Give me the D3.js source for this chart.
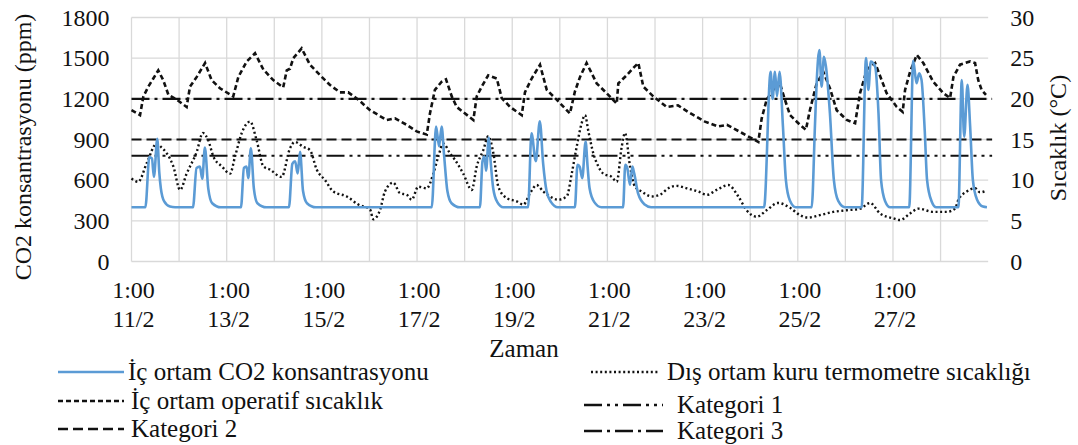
<!DOCTYPE html>
<html>
<head>
<meta charset="utf-8">
<script src="https://cdn.jsdelivr.net/npm/d3@7"></script>
<style>
  body { margin: 0; background: #fff; }
  text { font-family: "Liberation Serif", "Times New Roman", serif; fill: #111; }
</style>
</head>
<body>
<div id="vis"></div>
<script>
// chart size and plot box
const FRAME_WIDTH = 1078;
const FRAME_HEIGHT = 445;
const MARGINS = {left: 131.5, right: 90, top: 17.5, bottom: 183.5};

// time axis: hours counted from 11/2 1:00
const X_MAX = 432;
const xTickHours = [0, 48, 96, 144, 192, 240, 288, 336, 384];
const xTickDates = ["11/2", "13/2", "15/2", "17/2", "19/2", "21/2", "23/2", "25/2", "27/2"];
const yLeftTicks = [0, 300, 600, 900, 1200, 1500, 1800];
const yRightTicks = [0, 5, 10, 15, 20, 25, 30];

// indoor CO2 (ppm), [hour, value]
const co2Data = [
  [0, 400], [7, 400], [9, 770], [10.3, 760], [11.3, 625], [13, 905], [14, 660], [14.8, 540], [16.5, 443], [19.4, 405], [22, 400],
  [31, 400], [32.8, 690], [34.5, 700], [35.7, 610], [37, 840], [38.7, 540], [40.7, 430], [45, 400],
  [55.2, 400], [56.7, 690], [58, 700], [58.9, 615], [60.2, 836], [61.7, 540], [63.5, 430], [68, 400],
  [79.4, 400], [81.1, 720], [82.5, 740], [83.8, 650], [85, 810], [86.5, 520], [88.5, 430], [93, 400],
  [151.4, 400], [153.6, 995], [155.1, 850], [156.4, 995], [157.6, 790], [159.3, 520], [161.4, 430], [165.6, 400],
  [175.7, 400], [177, 740], [178, 775], [178.8, 670], [180.2, 915], [181, 760], [182.4, 540], [184.4, 440], [187.5, 400],
  [200, 400], [201.7, 945], [203.9, 740], [205.9, 1035], [207.6, 720], [209.3, 520], [211.5, 440], [215, 400],
  [223.6, 400], [224.9, 713], [226, 700], [227.3, 615], [229, 885], [230, 700], [231, 540], [233.3, 440], [237, 400],
  [247.9, 400], [249, 713], [250, 690], [251.4, 566], [252.6, 700], [253.5, 650], [255.5, 500], [258.8, 420], [262, 400],
  [319, 400], [322.3, 1400], [323.3, 1200], [324.5, 1400], [325.5, 1220], [326.8, 1400], [328.5, 1000], [330, 600], [332, 450], [335, 400],
  [343, 400], [344.7, 1020], [345.5, 1315], [346.9, 1560], [348, 1290], [349.2, 1510], [350.2, 1438], [352.2, 1094], [354.2, 600], [356.4, 447], [359.8, 400],
  [368.2, 400], [370.4, 1500], [371.6, 1266], [372.8, 1475], [375, 1438], [376.7, 1094], [378, 600], [380, 447], [382.6, 400],
  [392.2, 400], [394.2, 1480], [395.9, 1315], [397.2, 1389], [398.4, 1340], [400, 970], [401.2, 600], [403.4, 447], [405.9, 400],
  [417, 400], [418.7, 1339], [419.9, 921], [421.6, 1303], [422.9, 1000], [424.3, 600], [426.3, 460], [429.4, 405], [431.4, 400]
];

// indoor operative temperature (°C), [hour, value]
const operativeData = [
  [0, 18.6], [4.3, 18.0], [6, 20.3], [8.5, 21.5], [11, 22.5], [13.5, 23.5], [16, 22.3], [18.6, 20.5], [22.8, 19.9], [27.8, 19.0],
  [29.5, 21.5], [32.9, 22.7], [37.1, 24.4], [40.4, 22.3], [44.6, 21.3], [51.3, 20.3],
  [53.9, 22.7], [58.1, 24.6], [62.3, 25.6], [66.5, 23.6], [71.5, 22.3], [76.5, 21.4],
  [78.3, 23.5], [79.9, 23.7], [81.6, 25.0], [85.8, 26.2], [90, 24.2], [95.1, 22.9], [100.1, 21.7], [105.1, 20.8], [109.3, 20.8],
  [114.4, 19.9], [120.3, 18.6], [128.7, 17.4], [132.9, 17.6], [138.8, 16.8], [143.8, 16.0], [148.9, 15.6],
  [150.5, 18.2], [153, 21.1], [156.4, 22.1], [158.6, 22.4], [161.5, 20.3], [164, 19.0], [172.4, 17.4],
  [174.1, 20.3], [176.6, 21.5], [179.9, 22.9], [184.2, 22.5], [186.7, 20.1], [190.9, 19.0], [196.8, 18.0],
  [198.4, 20.8], [201.8, 22.5], [206, 24.2], [209.4, 21.1], [214.4, 19.9], [221.1, 18.2],
  [223.6, 20.9], [226.2, 22.7], [229.5, 24.4], [234.6, 21.9], [239.6, 20.7], [244.7, 19.4],
  [245.5, 21.9], [249.7, 22.9], [253.1, 23.8], [255.6, 24.4], [258.1, 21.5], [263.1, 20.3], [269.9, 19.0],
  [275.6, 19.2], [280.6, 18.4], [289.2, 17.2], [295.8, 16.6], [300.3, 16.8], [307.9, 15.8], [316.1, 14.7],
  [317.8, 17.6], [320.3, 19.9], [323.6, 21.1], [326.7, 22.1], [329.5, 19.9], [332.1, 18.0], [337.1, 16.8], [340.1, 16.2],
  [342.1, 18.6], [345.5, 21.9], [348.9, 23.3], [352.2, 21.3], [355.6, 18.6], [360.7, 17.4], [364.9, 17.0],
  [367.4, 20.7], [370.8, 23.6], [375, 24.4], [378.3, 22.3], [380.8, 20.7], [385.9, 19.0], [388.9, 18.4],
  [390.1, 21.1], [392.6, 23.3], [396, 25.4], [399.3, 24.4], [404.3, 22.1], [409.4, 20.7], [412.8, 20.1],
  [414.5, 22.7], [417.8, 24.2], [422.9, 24.6], [425.4, 24.4], [427, 22.3], [428.7, 21.1], [430.9, 20.5]
];

// outdoor dry bulb temperature (°C), [hour, value]
const outdoorData = [
  [0, 10.2], [3.4, 9.8], [7.7, 12.1], [12.7, 14.5], [15.2, 14.0], [17.8, 13.3], [21.1, 11.7], [24.5, 8.8],
  [27.8, 10.8], [32.9, 13.5], [36, 15.8], [38.7, 14.9], [41.3, 12.9], [45.5, 11.7], [49.7, 10.8],
  [52.2, 12.9], [55.6, 15.8], [59.8, 17.2], [63.1, 14.9], [66.5, 11.7], [69.8, 11.3], [75.7, 10.4],
  [79.9, 13.9], [82.4, 14.7], [86.6, 14.1], [90, 13.7], [93.4, 11.3], [97.6, 10.0], [101.8, 8.6], [108.5, 8.0],
  [114.4, 7.0], [120.3, 6.4], [121.9, 5.2], [125.3, 6.3], [127.8, 8.6], [132, 9.7], [135.4, 8.4], [138.8, 8.2],
  [141.3, 7.6], [144.6, 9.2], [148.9, 9.0], [152.2, 10.8], [154.7, 12.9], [157.2, 14.5], [160.6, 13.3], [163.1, 12.5],
  [167.3, 10.8], [171.6, 8.8], [174.1, 11.7], [177.4, 13.7], [179.9, 15.4], [182.5, 13.3], [185, 9.2], [189.2, 7.8],
  [194.2, 7.4], [197.6, 7.0], [201, 8.4], [204.3, 9.4], [207.7, 8.6], [211, 8.0], [215.2, 7.6], [219.5, 8.0],
  [222, 10.8], [224.5, 14.1], [227, 17.0], [228.7, 18.0], [230.4, 16.0], [232.9, 13.3], [235.4, 11.7], [237.9, 10.8],
  [242.2, 10.4], [244.7, 9.8], [247.2, 14.1], [248.9, 15.8], [251.4, 11.7], [253.9, 9.2], [257.3, 8.6], [262.3, 8.0],
  [266.5, 8.2], [270.7, 9.0], [274.9, 9.3], [280, 9.0], [285.8, 8.6], [290.1, 8.2], [295.1, 8.8], [301, 9.4],
  [306, 8.0], [310.2, 6.3], [315.3, 5.5], [320.3, 6.3], [326, 7.2], [332.1, 6.6], [337.1, 5.7], [341.1, 5.4],
  [347.1, 5.7], [353.9, 6.1], [360.7, 6.3], [367.4, 6.5], [372.5, 7.2], [377.5, 5.9], [384.2, 5.3], [387.5, 5.1],
  [392.6, 5.9], [396.8, 6.5], [404.3, 6.1], [411.1, 6.1], [415.3, 6.5], [417, 7.6], [421.2, 8.6], [425.4, 9.0],
  [427.9, 8.5], [430.9, 8.7]
];

// CO2 category limits (ppm)
const katNames = ["Kategori 1", "Kategori 2", "Kategori 3"];
const katValues = [780, 900, 1200];
const katDash = ["18,5,3,5,3,5", "10,5", "18,5,3,5"];

const BLUE = "#5b9bd5";
const OP_DASH = "5,3";
const OUT_DASH = "2,2.6";

const svg = d3.select("#vis")
  .append("svg")
    .attr("width", FRAME_WIDTH)
    .attr("height", FRAME_HEIGHT);

const plotBottom = FRAME_HEIGHT - MARGINS.bottom;

const x = d3.scaleLinear().domain([0, X_MAX]).range([MARGINS.left, MARGINS.left + 1.983 * X_MAX]);
const yL = d3.scaleLinear().domain([0, 1800]).range([plotBottom, MARGINS.top]);
const yR = d3.scaleLinear().domain([0, 30]).range([plotBottom, MARGINS.top]);
const xEnd = x(X_MAX);

// gridlines
const grid = svg.append("g").attr("stroke", "#d9d9d9").attr("stroke-width", 1.3);
grid.selectAll("line.h")
  .data(yLeftTicks)
  .enter()
  .append("line")
    .attr("x1", MARGINS.left).attr("x2", xEnd)
    .attr("y1", (d) => yL(d)).attr("y2", (d) => yL(d));
grid.selectAll("line.v")
  .data(d3.range(0, X_MAX, 24))
  .enter()
  .append("line")
    .attr("x1", (d) => x(d)).attr("x2", (d) => x(d))
    .attr("y1", MARGINS.top).attr("y2", plotBottom);

// left axis labels
svg.append("g")
  .attr("transform", `translate(${MARGINS.left - 22},0)`)
  .call(d3.axisLeft(yL).tickValues(yLeftTicks).tickFormat(d3.format("d")).tickSize(0).tickPadding(0))
  .call((g) => g.select(".domain").remove())
  .selectAll("text")
    .attr("font-size", 24)
    .attr("font-family", "Liberation Serif")
    .attr("fill", "#111");

// right axis labels
svg.append("g")
  .attr("transform", `translate(${xEnd + 22},0)`)
  .call(d3.axisRight(yR).tickValues(yRightTicks).tickFormat(d3.format("d")).tickSize(0).tickPadding(0))
  .call((g) => g.select(".domain").remove())
  .selectAll("text")
    .attr("font-size", 24)
    .attr("font-family", "Liberation Serif")
    .attr("fill", "#111");

// x labels: two lines each
const xl = svg.append("g").selectAll("g")
  .data(xTickHours)
  .enter()
  .append("g")
    .attr("transform", (d) => `translate(${x(d) + 2},0)`);
xl.append("text")
  .attr("y", 298).attr("text-anchor", "middle").attr("font-size", 24)
  .text("1:00");
xl.append("text")
  .attr("y", 327).attr("text-anchor", "middle").attr("font-size", 24)
  .text((d, i) => xTickDates[i]);

// axis titles
svg.append("text")
  .attr("transform", `translate(31,147) rotate(-90)`)
  .attr("text-anchor", "middle").attr("font-size", 24)
  .text("CO2 konsantrasyonu (ppm)");
svg.append("text")
  .attr("transform", `translate(1066,138) rotate(-90)`)
  .attr("text-anchor", "middle").attr("font-size", 24)
  .text("Sıcaklık (°C)");
svg.append("text")
  .attr("x", 524).attr("y", 357)
  .attr("text-anchor", "middle").attr("font-size", 25)
  .text("Zaman");

// category lines
svg.selectAll("line.kat")
  .data(katValues)
  .enter()
  .append("line")
    .attr("x1", MARGINS.left).attr("x2", x(X_MAX + 2))
    .attr("y1", (d) => yL(d)).attr("y2", (d) => yL(d))
    .attr("stroke", "#111")
    .attr("stroke-width", 2.2)
    .attr("stroke-dasharray", (d, i) => katDash[i]);

// series lines
const lineL = d3.line().x((d) => x(d[0])).y((d) => yL(d[1]));
const lineR = d3.line().x((d) => x(d[0])).y((d) => yR(d[1]));

svg.append("path")
  .datum(outdoorData)
  .attr("d", lineR.curve(d3.curveMonotoneX))
  .attr("fill", "none").attr("stroke", "#111")
  .attr("stroke-width", 2.4).attr("stroke-dasharray", OUT_DASH);

svg.append("path")
  .datum(operativeData)
  .attr("d", d3.line().x((d) => x(d[0])).y((d) => yR(d[1])))
  .attr("fill", "none").attr("stroke", "#111")
  .attr("stroke-width", 2.6).attr("stroke-dasharray", OP_DASH);

svg.append("path")
  .datum(co2Data)
  .attr("d", lineL.curve(d3.curveMonotoneX))
  .attr("fill", "none").attr("stroke", BLUE)
  .attr("stroke-width", 2.6);

// legend, two columns
const legendItems = [
  {label: "İç ortam CO2 konsantrasyonu", x1: 58, x2: 124, tx: 128, y: 372, stroke: BLUE, dash: null},
  {label: "İç ortam operatif sıcaklık", x1: 58, x2: 124, tx: 131, y: 401, stroke: "#111", dash: OP_DASH},
  {label: katNames[1], x1: 58, x2: 124, tx: 131, y: 429, stroke: "#111", dash: katDash[1]},
  {label: "Dış ortam kuru termometre sıcaklığı", x1: 591, x2: 660, tx: 667, y: 372, stroke: "#111", dash: OUT_DASH},
  {label: katNames[0], x1: 584, x2: 663, tx: 677, y: 405, stroke: "#111", dash: katDash[0]},
  {label: katNames[2], x1: 584, x2: 663, tx: 677, y: 431, stroke: "#111", dash: katDash[2]}
];
const leg = svg.append("g").selectAll("g")
  .data(legendItems)
  .enter()
  .append("g");
leg.append("line")
  .attr("x1", (d) => d.x1).attr("x2", (d) => d.x2)
  .attr("y1", (d) => d.y).attr("y2", (d) => d.y)
  .attr("stroke", (d) => d.stroke)
  .attr("stroke-width", 2.4)
  .attr("stroke-dasharray", (d) => d.dash);
leg.append("text")
  .attr("x", (d) => d.tx).attr("y", (d) => d.y + 8)
  .attr("font-size", 25)
  .text((d) => d.label);
</script>
</body>
</html>
